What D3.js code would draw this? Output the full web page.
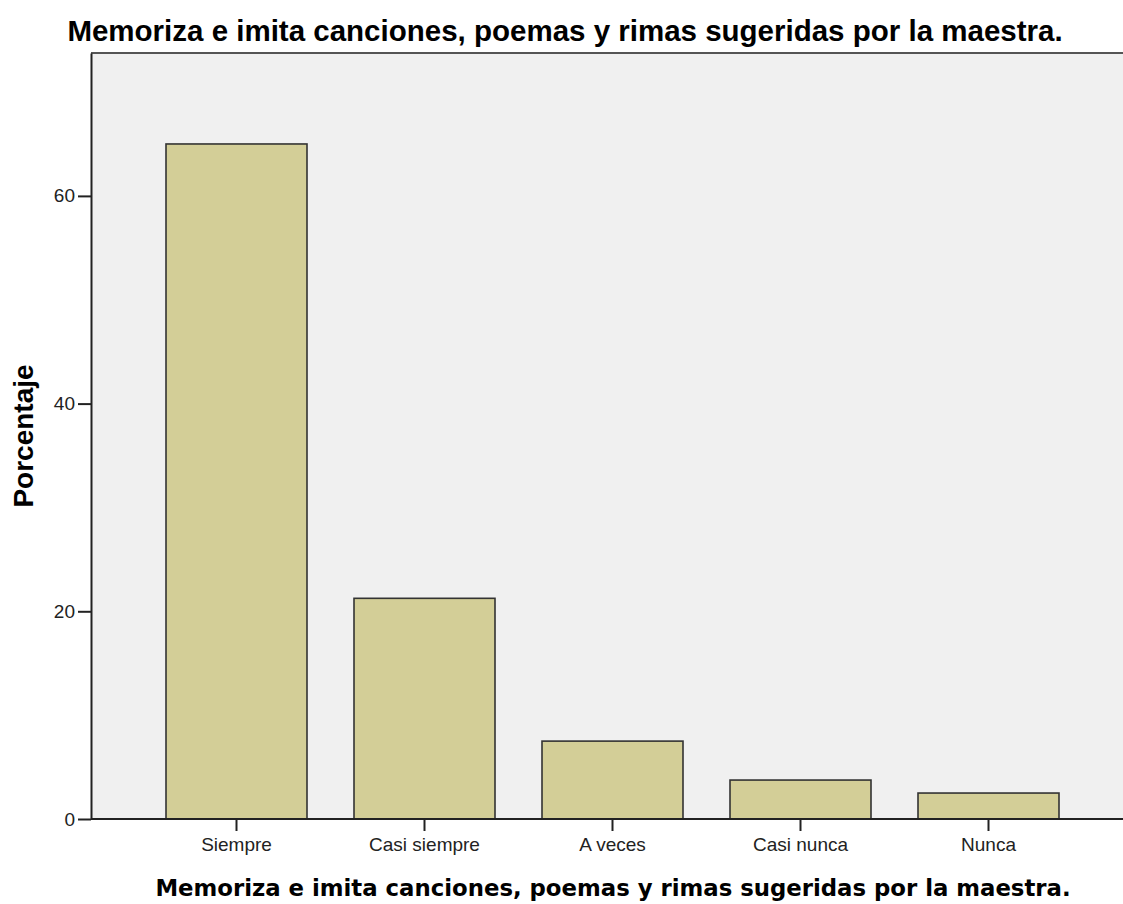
<!DOCTYPE html>
<html>
<head>
<meta charset="utf-8">
<script src="https://cdn.jsdelivr.net/npm/d3@7"></script>
<style>
  html, body { margin: 0; padding: 0; background: #ffffff; }
  svg { display: block; }
</style>
</head>
<body>
<div id="chart"></div>
<script>
const categories = ["Siempre", "Casi siempre", "A veces", "Casi nunca", "Nunca"];
const percentages = [65.0, 21.25, 7.5, 3.75, 2.5];
const yTickValues = [0, 20, 40, 60];
const titleText = "Memoriza e imita canciones, poemas y rimas sugeridas por la maestra.";
const xAxisTitle = "Memoriza e imita canciones, poemas y rimas sugeridas por la maestra.";
const yAxisTitle = "Porcentaje";

const W = 1123, H = 904;
const plot = { left: 91, top: 53, right: 1123, bottom: 819 };

const svg = d3.select("#chart").append("svg")
  .attr("width", W).attr("height", H);

// plot background
svg.append("rect")
  .attr("x", plot.left).attr("y", plot.top)
  .attr("width", plot.right - plot.left).attr("height", plot.bottom - plot.top)
  .attr("fill", "#f0f0f0");

const x = d3.scaleBand()
  .domain(categories)
  .range([142.5, 1082.5])
  .paddingInner(0.25)
  .paddingOuter(0.125);

const y = d3.scaleLinear()
  .domain([0, 73.76])
  .range([plot.bottom, plot.top]);

// bars
svg.append("g").selectAll("rect")
  .data(categories.map((c, i) => ({ c, v: percentages[i] })))
  .join("rect")
  .attr("x", d => x(d.c))
  .attr("y", d => y(d.v))
  .attr("width", x.bandwidth())
  .attr("height", d => y(0) - y(d.v))
  .attr("fill", "#d3ce97")
  .attr("stroke", "#333333")
  .attr("stroke-width", 1.6);

// top border
svg.append("line")
  .attr("x1", plot.left).attr("x2", plot.right)
  .attr("y1", plot.top).attr("y2", plot.top)
  .attr("stroke", "#555555").attr("stroke-width", 2);

// y axis
const yAxis = svg.append("g")
  .attr("transform", `translate(${plot.left},0)`)
  .call(d3.axisLeft(y).tickValues(yTickValues).tickFormat(d3.format("d")).tickSize(13).tickPadding(3).tickSizeOuter(0));
yAxis.select(".domain").attr("stroke", "#222").attr("stroke-width", 2);
yAxis.selectAll(".tick line").attr("stroke", "#222").attr("stroke-width", 2);
yAxis.selectAll(".tick text")
  .attr("font-family", "'Liberation Sans', Arial, sans-serif")
  .attr("font-size", 19).attr("fill", "#222");

// x axis
const xAxis = svg.append("g")
  .attr("transform", `translate(0,${plot.bottom})`)
  .call(d3.axisBottom(x).tickSize(12).tickPadding(7).tickSizeOuter(0));
xAxis.select(".domain").remove();
xAxis.selectAll(".tick line").attr("stroke", "#222").attr("stroke-width", 2);
xAxis.selectAll(".tick text")
  .attr("font-family", "'Liberation Sans', Arial, sans-serif")
  .attr("font-size", 19).attr("fill", "#222");

svg.append("line")
  .attr("x1", plot.left).attr("x2", plot.right)
  .attr("y1", plot.bottom).attr("y2", plot.bottom)
  .attr("stroke", "#222").attr("stroke-width", 2);

// title
svg.append("text")
  .attr("x", 565).attr("y", 41)
  .attr("text-anchor", "middle")
  .attr("font-family", "'Liberation Sans', Arial, sans-serif")
  .attr("font-weight", "bold")
  .attr("font-size", 29.5)
  .attr("fill", "#000")
  .text(titleText);

// x axis title
svg.append("text")
  .attr("x", 613).attr("y", 896)
  .attr("text-anchor", "middle")
  .attr("font-family", "'DejaVu Sans', Verdana, sans-serif")
  .attr("font-weight", "bold")
  .attr("font-size", 22.8)
  .attr("fill", "#000")
  .text(xAxisTitle);

// y axis title
svg.append("text")
  .attr("transform", `translate(33,436) rotate(-90)`)
  .attr("text-anchor", "middle")
  .attr("font-family", "'Liberation Sans', Arial, sans-serif")
  .attr("font-weight", "bold")
  .attr("font-size", 28)
  .attr("fill", "#000")
  .text(yAxisTitle);
</script>
</body>
</html>
